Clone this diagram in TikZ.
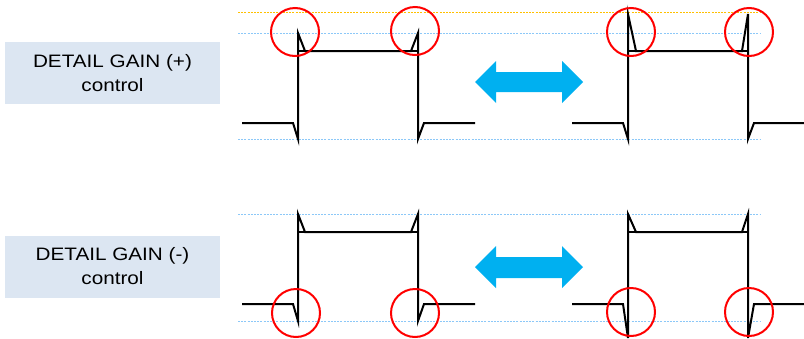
\documentclass[tikz,border=0pt]{standalone}
\usepackage{fontspec}
\setmainfont{Liberation Sans}[FakeStretch=1.15]
\definecolor{guideblue}{HTML}{8CC8F8}
\definecolor{guideorange}{HTML}{FFC000}
\definecolor{boxfill}{HTML}{DCE6F2}
\definecolor{arrowblue}{HTML}{00B0F0}
\begin{document}
\begin{tikzpicture}[x=1pt,y=-1pt,
  wave/.style={line width=2pt, black, line join=miter},
  ring/.style={circle, draw=red, line width=2pt, minimum size=48pt, inner sep=0pt},
  guideb/.style={draw=guideblue, line width=1pt, dash pattern=on 2pt off 1.2pt},
  guideo/.style={draw=guideorange, line width=1pt, dash pattern=on 2pt off 1.2pt},
  labelbox/.style={fill=boxfill, minimum width=215pt, minimum height=62pt, inner sep=0pt,
    align=center, font=\fontsize{18}{24}\selectfont},
  dblarrow/.style={fill=arrowblue, draw=none}]
\useasboundingbox (0,0) rectangle (804,338);
\fill[white] (0,0) rectangle (804,338);

% labels
\node[labelbox] (lab1) at (112.5,73) {DETAIL GAIN (+)\\control};
\node[labelbox] (lab2) at (112.5,266.5) {DETAIL GAIN (-)\\control};

% guide lines
\coordinate (go1) at (238,12);  \coordinate (go2) at (760,12);
\coordinate (gb1) at (238,33);  \coordinate (gb2) at (760,33);
\coordinate (gb3) at (238,139); \coordinate (gb4) at (760,139);
\coordinate (gb5) at (238,214); \coordinate (gb6) at (760,214);
\coordinate (gb7) at (238,321); \coordinate (gb8) at (760,321);
\draw[guideo] (go1) -- (go2);
\draw[guideb] (gb1) -- (gb2);
\draw[guideb] (gb3) -- (gb4);
\draw[guideb] (gb5) -- (gb6);
\draw[guideb] (gb7) -- (gb8);

% arrows
\fill[dblarrow] (475,82) -- (496,61) -- (496,72) -- (562,72) -- (562,61) -- (583,82)
  -- (562,103) -- (562,92) -- (496,92) -- (496,103) -- cycle;
\fill[dblarrow] (475,267) -- (496,246) -- (496,257) -- (562,257) -- (562,246) -- (583,267)
  -- (562,288) -- (562,278) -- (496,278) -- (496,288) -- cycle;

% waveforms
\draw[wave] (242,123) -- (293,123) -- (298,139) -- (298,33) -- (305,51) -- (411,51)
  -- (418,33) -- (418,139) -- (424,123) -- (475,123);
\draw[wave] (298,51) -- (418,51);
\draw[wave] (572,123) -- (623,123) -- (628,139) -- (628,14) -- (636,51) -- (742,51)
  -- (748,14) -- (748,139) -- (754,123) -- (804,123);
\draw[wave] (628,51) -- (748,51);
\draw[wave] (242,304) -- (293,304) -- (298,321) -- (298,214) -- (305,232) -- (411,232)
  -- (418,214) -- (418,321) -- (424,304) -- (475,304);
\draw[wave] (298,232) -- (418,232);
\draw[wave] (572,304) -- (623,304) -- (628,338) -- (628,214) -- (636,232) -- (742,232)
  -- (748,214) -- (748,338) -- (754,304) -- (804,304);
\draw[wave] (628,232) -- (748,232);

% circles
\node[ring] (c1) at (295,32) {};
\node[ring] (c2) at (415,31) {};
\node[ring] (c3) at (631,32) {};
\node[ring] (c4) at (749,32) {};
\node[ring] (c5) at (296,313) {};
\node[ring] (c6) at (415,313) {};
\node[ring] (c7) at (631,312) {};
\node[ring] (c8) at (749,312) {};
\end{tikzpicture}
\end{document}
